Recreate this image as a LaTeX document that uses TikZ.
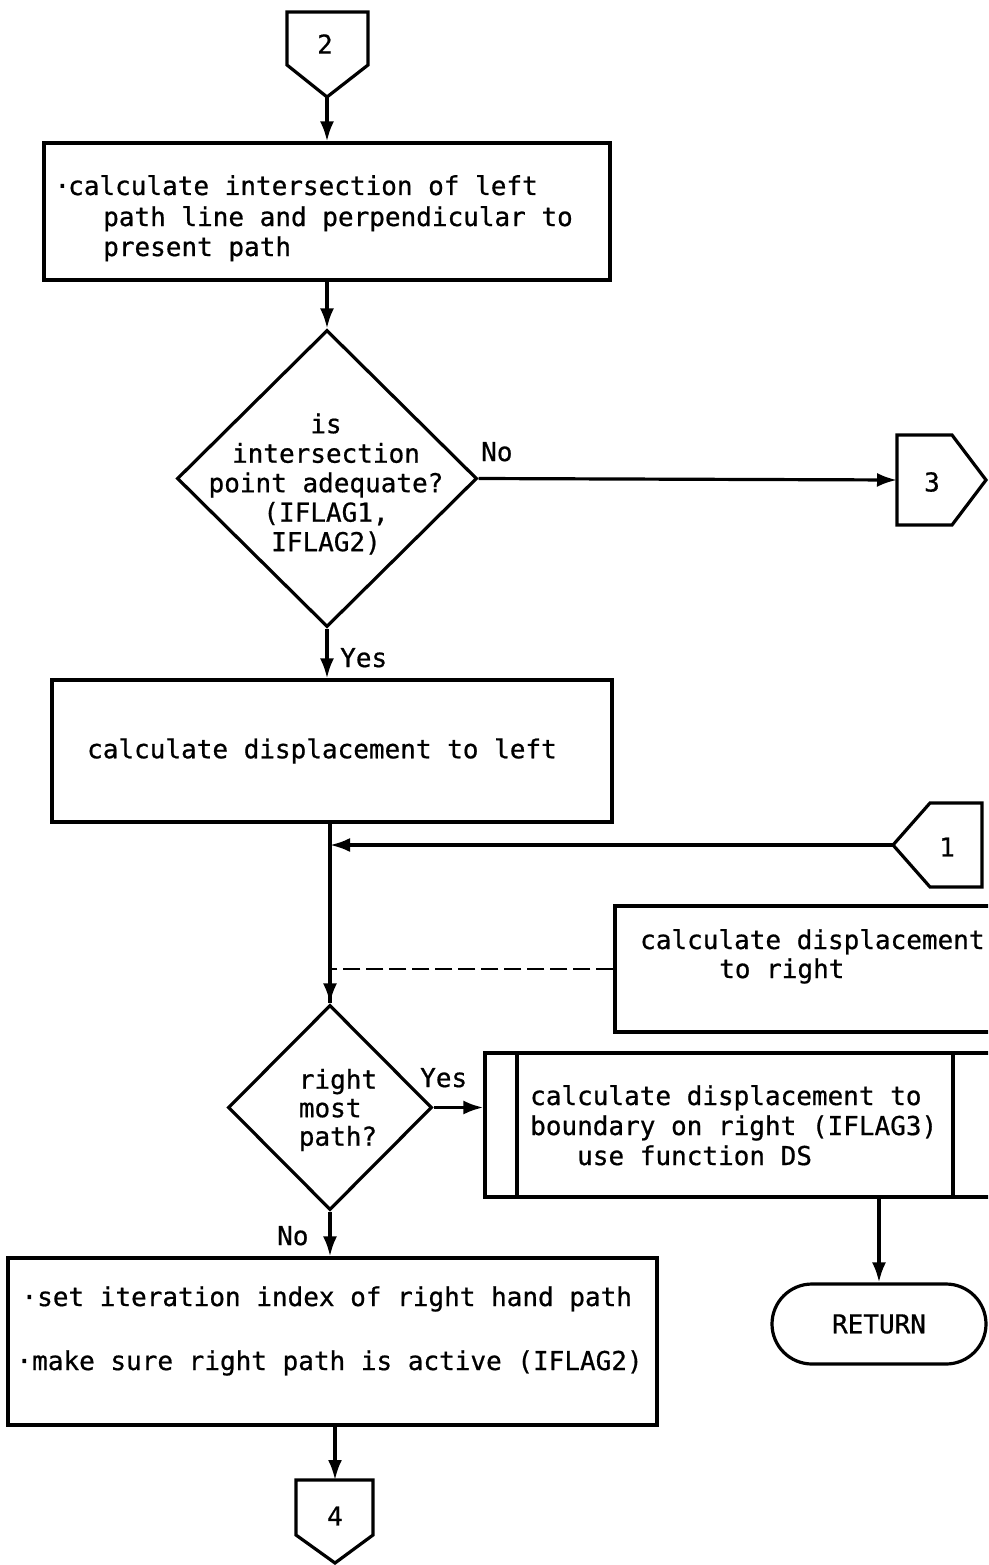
\documentclass[tikz,border=0pt]{standalone}
\usepackage{fontspec}
\newfontfamily\tw[FakeBold=0.7]{DejaVu Sans Mono}
\usetikzlibrary{arrows.meta,shapes.geometric}

\tikzset{
  ln/.style={line width=3.2pt, line join=miter},
  arr/.style={ln, -{Latex[length=20pt,width=14pt]}},
  box/.style={draw, ln, rectangle, inner sep=0pt},
  dia/.style={draw, ln, diamond, inner sep=0pt, aspect=1},
  tt/.style={font=\tw\fontsize{26}{30}\selectfont, inner sep=0pt},
  ttl/.style={tt, anchor=base west},
  dashln/.style={line width=2.4pt, dash pattern=on 17pt off 6pt},
}

\begin{document}
\begin{tikzpicture}[x=1pt, y=-1pt]
\useasboundingbox (0,0) rectangle (988,1565);
\clip (0,0) rectangle (988,1565);
\fill[white] (0,0) rectangle (988,1565);

% off-page connector 2 (entry)
\draw[ln] (287,12) -- (368,12) -- (368,65) -- (327,97) -- (287,65) -- cycle;
\node[tt] (c2) at (325,44) {2};
\coordinate (c2tip) at (327,97);

% first process box
\node[box, minimum width=566pt, minimum height=137pt] (b1) at (327,211.5) {};
\node[ttl] (b1a) at (68,195) {\llap{·\hspace{-2pt}}calculate intersection of left};
\node[ttl] (b1b) at (103,226) {path line and perpendicular to};
\node[ttl] (b1c) at (103,256) {present path};

% first decision
\node[dia, minimum width=300pt, minimum height=297pt] (d1) at (327,478.5) {};
\node[tt, align=center, font=\tw\fontsize{26}{29.5}\selectfont] (d1t) at (326,484)
  {is\\intersection\\point adequate?\\(IFLAG1,\\IFLAG2)};
\node[ttl] (no1) at (481,461) {No};
\node[ttl] (yes1) at (340,667) {Yes};

% off-page connector 3 (exit)
\draw[ln] (897,435) -- (952,435) -- (986,480) -- (952,525) -- (897,525) -- cycle;
\node[tt] (c3) at (932,482) {3};
\coordinate (c3in) at (897,480);

% second process box
\node[box, minimum width=560pt, minimum height=142pt] (b2) at (332,751) {};
\node[tt] (b2t) at (322,751) {calculate displacement to left};

% on-page connector 1 (entry from the right)
\draw[ln] (893,845) -- (930,803) -- (982,803) -- (982,887) -- (930,887) -- cycle;
\node[tt] (c1) at (947,847) {1};
\coordinate (c1tip) at (893,845);

% process box reached by the dashed link
\node[box, minimum width=400pt, minimum height=126pt] (b3) at (815,969) {};
\node[ttl] (b3a) at (640,949) {calculate displacement};
\node[ttl] (b3b) at (719,978) {to right};

% second decision
\node[dia, minimum width=204pt, minimum height=205pt] (d2) at (330,1107.5) {};
\node[tt, align=left, font=\tw\fontsize{26}{28.5}\selectfont] (d2t) at (338,1110)
  {right\\most\\path?};
\node[ttl] (yes2) at (420,1087) {Yes};
\node[ttl] (no2) at (277,1245) {No};

% predefined process box
\node[box, minimum width=520pt, minimum height=144pt] (b4) at (745,1125) {};
\draw[ln] (517,1053) -- (517,1197);
\draw[ln] (953,1053) -- (953,1197);
\node[ttl] (b4a) at (530,1105) {calculate displacement to};
\node[ttl] (b4b) at (530,1135) {boundary on right (IFLAG3)};
\node[ttl] (b4c) at (577,1165) {use function DS};

% terminal
\node[draw, ln, rounded corners=40pt, minimum width=214pt, minimum height=80pt,
      tt] (ret) at (879,1324) {RETURN};

% last process box
\node[box, minimum width=649pt, minimum height=167pt] (b5) at (332.5,1341.5) {};
\node[ttl] (b5a) at (37,1306) {\llap{·}set iteration index of right hand path};
\node[ttl] (b5b) at (32,1370) {\llap{·}make sure right path is active (IFLAG2)};

% off-page connector 4 (exit)
\draw[ln] (296,1480) -- (373,1480) -- (373,1535) -- (335,1563) -- (296,1535) -- cycle;
\node[tt] (c4) at (335,1516) {4};
\coordinate (c4top) at (335,1480);

% connectors
\draw[arr] (c2tip) -- (c2tip |- b1.north);
\draw[arr] (d1.north |- b1.south) -- (d1.north);
\draw[arr] (d1.east) -- (c3in);
\draw[arr] (d1.south) -- (d1.south |- b2.north);
\draw[ln] (d2.north |- b2.south) -- (d2.north);
\draw[arr] (d2.north |- b3.west) ++(0,20) -- (d2.north);
\draw[arr] (c1tip) -- (d2.north |- c1tip);
\draw[dashln] (b3.west) -- (d2.north |- b3.west);
\draw[arr] (d2.east) -- (d2.east -| b4.west);
\draw[arr] (ret.north |- b4.south) -- (ret.north);
\draw[arr] (d2.south) -- (d2.south |- b5.north);
\draw[arr] (c4top |- b5.south) -- (c4top);
\end{tikzpicture}
\end{document}
